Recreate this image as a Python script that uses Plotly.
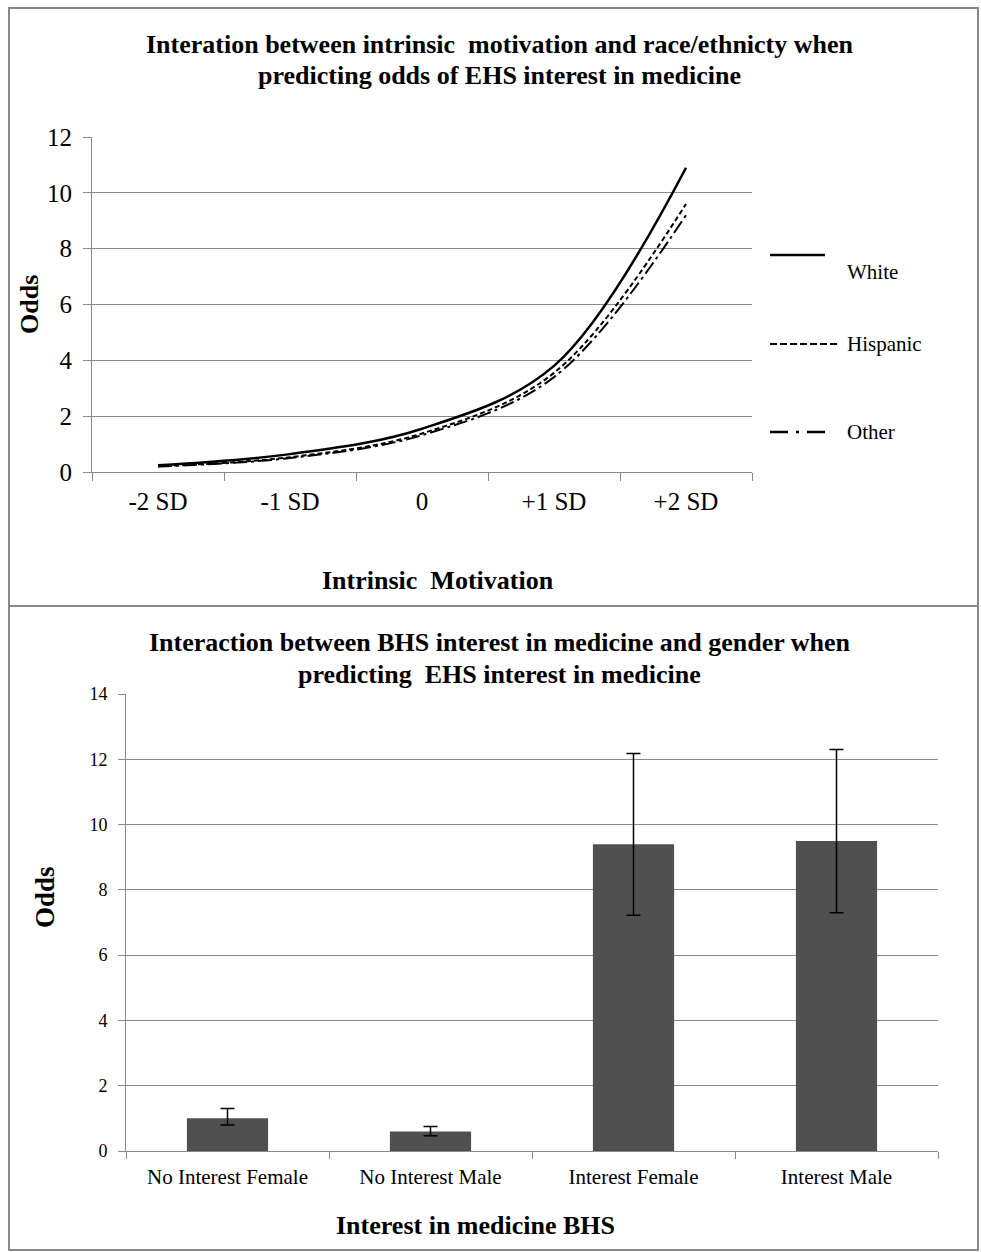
import plotly.graph_objects as go

W, H = 981, 1252

# ---------------- data ----------------
motivation_levels = ["-2 SD", "-1 SD", "0", "+1 SD", "+2 SD"]
white_odds = [0.24, 0.64, 1.55, 3.8, 10.9]
hispanic_odds = [0.21, 0.53, 1.38, 3.55, 9.6]
other_odds = [0.20, 0.50, 1.32, 3.4, 9.2]

bhs_groups = ["No Interest Female", "No Interest Male", "Interest Female", "Interest Male"]
bhs_odds = [1.0, 0.6, 9.4, 9.5]
bhs_err_plus = [0.3, 0.15, 2.78, 2.8]
bhs_err_minus = [0.2, 0.13, 2.18, 2.2]

top_yticks = [0, 2, 4, 6, 8, 10, 12]
bottom_yticks = [0, 2, 4, 6, 8, 10, 12, 14]

FONT = "Liberation Serif, Times New Roman, serif"
GRID = "#8a8a8a"


def px(x):
    return x / W


def py(y):
    return 1 - y / H


fig = go.Figure()

fig.add_trace(go.Scatter(x=motivation_levels, y=white_odds, mode="lines", name="White",
                         line=dict(color="black", width=2.5, shape="spline", smoothing=1.0),
                         showlegend=False, xaxis="x", yaxis="y"))
fig.add_trace(go.Scatter(x=motivation_levels, y=hispanic_odds, mode="lines", name="Hispanic",
                         line=dict(color="black", width=2, dash="5px,3px", shape="spline", smoothing=1.0),
                         showlegend=False, xaxis="x", yaxis="y"))
fig.add_trace(go.Scatter(x=motivation_levels, y=other_odds, mode="lines", name="Other",
                         line=dict(color="black", width=2, dash="14px,4px,3px,4px", shape="spline", smoothing=1.0),
                         showlegend=False, xaxis="x", yaxis="y"))

fig.add_trace(go.Bar(x=bhs_groups, y=bhs_odds, marker=dict(color="#505050", line=dict(width=0)),
                     error_y=dict(type="data", array=bhs_err_plus, arrayminus=bhs_err_minus,
                                  color="black", thickness=1.5, width=7),
                     showlegend=False, xaxis="x2", yaxis="y2"))

axis_common = dict(showline=True, linecolor=GRID, linewidth=1, ticks="outside",
                   tickcolor=GRID, zeroline=False, automargin=False)

fig.update_layout(
    width=W, height=H,
    margin=dict(l=0, r=0, t=0, b=0, pad=0, autoexpand=False),
    paper_bgcolor="white", plot_bgcolor="white",
    font=dict(family=FONT, color="black"),
    bargap=0.6,
    xaxis=dict(domain=[px(92), px(752)], type="category", range=[-0.5, 4.5],
               tickson="boundaries", ticklen=8, showgrid=False,
               tickfont=dict(size=25), ticklabelstandoff=7, anchor="y", **axis_common),
    yaxis=dict(domain=[py(472), py(137)], range=[0, 12], tickvals=top_yticks,
               showgrid=True, gridcolor=GRID, gridwidth=1, ticklen=8,
               tickfont=dict(size=25), ticklabelstandoff=6, anchor="x", **axis_common),
    xaxis2=dict(domain=[px(126), px(938)], type="category", range=[-0.5, 3.5],
                tickson="boundaries", ticklen=7, showgrid=False,
                tickfont=dict(size=21), ticklabelstandoff=7, anchor="y2", **axis_common),
    yaxis2=dict(domain=[py(1151), py(694)], range=[0, 14], tickvals=bottom_yticks,
                showgrid=True, gridcolor=GRID, gridwidth=1, ticklen=7,
                tickfont=dict(size=18), ticklabelstandoff=7, anchor="x2", **axis_common),
)

ann = []


def text(x, y, s, size, bold=False, xanchor="center", angle=0):
    ann.append(dict(x=px(x), y=py(y), xref="paper", yref="paper", text=(f"<b>{s}</b>" if bold else s),
                    showarrow=False, xanchor=xanchor, yanchor="middle", textangle=angle,
                    font=dict(size=size, family=FONT, color="black")))


# titles
text(500, 45, "Interation between intrinsic  motivation and race/ethnicty when", 26, True)
text(500, 75, "predicting odds of EHS interest in medicine", 26, True)
text(500, 642, "Interaction between BHS interest in medicine and gender when", 26, True)
text(500, 674, "predicting  EHS interest in medicine", 26, True)
# axis titles
text(29, 305, "Odds", 26, True, angle=-90)
text(438, 580, "Intrinsic  Motivation", 26, True)
text(45, 897, "Odds", 27, True, angle=-90)
text(475, 1225, "Interest in medicine BHS", 26, True)
# legend labels
text(845, 272, "White", 21, xanchor="left")
text(845, 344, "Hispanic", 21, xanchor="left")
text(845, 432, "Other", 21, xanchor="left")

shapes = [
    # outer frame and divider
    dict(type="rect", xref="paper", yref="paper", x0=px(9), x1=px(978), y0=py(1250), y1=py(8),
         line=dict(color="#888888", width=2)),
    dict(type="line", xref="paper", yref="paper", x0=px(9), x1=px(978), y0=py(606), y1=py(606),
         line=dict(color="#888888", width=2)),
    # legend keys
    dict(type="line", xref="paper", yref="paper", x0=px(770), x1=px(825), y0=py(255), y1=py(255),
         line=dict(color="black", width=2.5)),
    dict(type="line", xref="paper", yref="paper", x0=px(770), x1=px(838), y0=py(344), y1=py(344),
         line=dict(color="black", width=2, dash="7px,3px")),
    dict(type="line", xref="paper", yref="paper", x0=px(770), x1=px(827), y0=py(432), y1=py(432),
         line=dict(color="black", width=2.5, dash="18px,8px,3px,8px")),
]

fig.update_layout(annotations=ann, shapes=shapes)

post = (
    "var s=document.createElement('style');"
    "s.textContent='html,body{margin:0!important;padding:0!important;overflow:hidden;"
    "width:981px;height:1252px;}';"
    "document.head.appendChild(s);"
    "var g=document.getElementById('{plot_id}');"
    "g.style.position='absolute';g.style.top='0px';g.style.left='0px';"
)

fig.write_html("out.html", config={"displayModeBar": False}, post_script=post)
